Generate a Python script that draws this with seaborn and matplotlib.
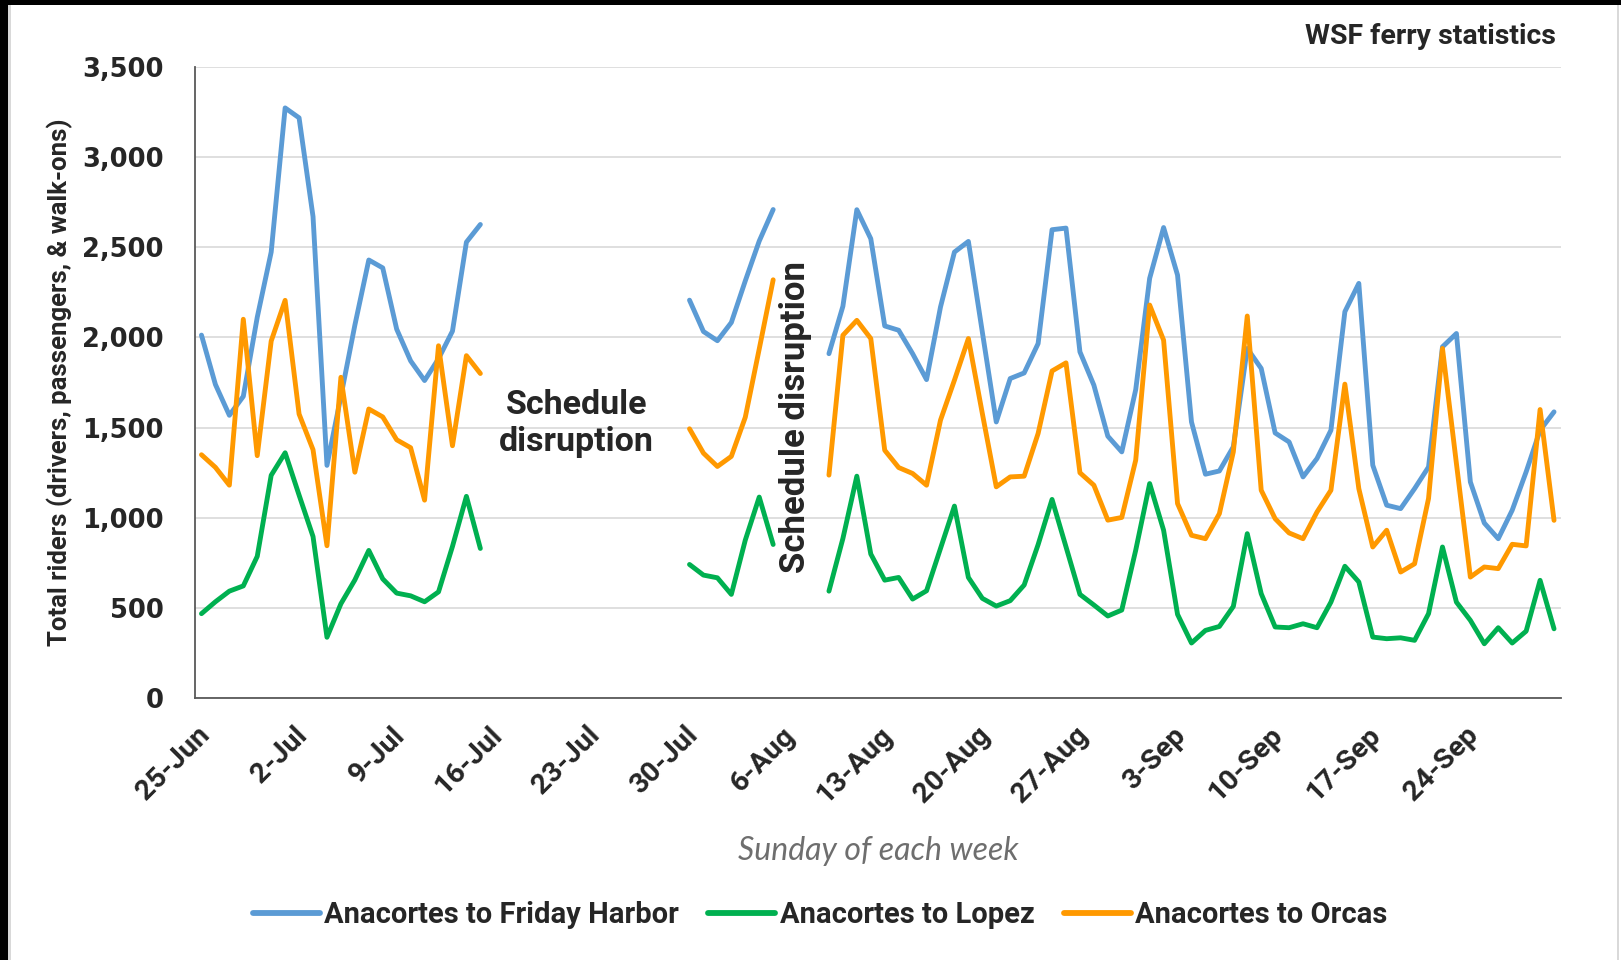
import numpy as np
import pandas as pd
import matplotlib
matplotlib.use("Agg")
import matplotlib.pyplot as plt
import matplotlib.transforms as mtransforms
from matplotlib.lines import Line2D
from matplotlib.patches import Rectangle
from matplotlib.ticker import FuncFormatter, MultipleLocator
import seaborn as sns

# ---------------- data ----------------
start_date = "2017-06-25"
n_days = 98
nan = np.nan

friday_harbor = [2013, 1739, 1568, 1673, 2112, 2474, 3274, 3219, 2671, 1290, 1673, 2068, 2430, 2386,
                 2046, 1870, 1761, 1882, 2035, 2529, 2627,
                 nan, nan, nan, nan, nan, nan, nan, nan, nan, nan, nan, nan, nan, nan,
                 2207, 2033, 1982, 2083, 2314, 2535, 2710,
                 nan, nan, nan,
                 1910, 2173, 2709, 2548, 2064, 2040, 1910, 1766, 2169, 2474, 2533, 2030, 1531, 1772,
                 1803, 1966, 2598, 2607, 1920, 1735, 1452, 1365, 1710, 2328, 2610, 2346, 1531, 1241,
                 1259, 1393, 1939, 1828, 1470, 1420, 1226, 1328, 1485, 2143, 2300, 1291, 1069, 1050,
                 1161, 1281, 1948, 2022, 1198, 970, 883, 1041, 1254, 1485, 1587]

lopez = [467, 533, 592, 621, 785, 1235, 1360, 1125, 895, 336, 522, 654, 818, 660,
         581, 566, 533, 588, 840, 1118, 829,
         nan, nan, nan, nan, nan, nan, nan, nan, nan, nan, nan, nan, nan, nan,
         740, 681, 666, 574, 875, 1114, 851,
         nan, nan, nan,
         592, 884, 1230, 798, 653, 668, 548, 594, 829, 1064, 668, 552, 509, 539,
         626, 850, 1101, 838, 574, 515, 454, 487, 819, 1189, 930, 463, 304, 374,
         396, 507, 911, 578, 393, 389, 411, 389, 531, 730, 643, 337, 328, 333,
         319, 467, 837, 531, 430, 300, 389, 304, 370, 652, 383]

orcas = [1349, 1279, 1180, 2101, 1344, 1980, 2206, 1575, 1377, 844, 1779, 1252, 1603, 1559,
         1432, 1388, 1097, 1954, 1399, 1899, 1800,
         nan, nan, nan, nan, nan, nan, nan, nan, nan, nan, nan, nan, nan, nan,
         1493, 1358, 1284, 1340, 1557, 1936, 2320,
         nan, nan, nan,
         1236, 2012, 2095, 1994, 1374, 1278, 1245, 1180, 1541, 1763, 1994, 1578, 1171, 1226,
         1230, 1467, 1814, 1859, 1249, 1180, 986, 1001, 1319, 2180, 1985, 1078, 902, 883,
         1022, 1365, 2119, 1152, 994, 915, 883, 1031, 1152, 1741, 1161, 837, 930, 698,
         744, 1106, 1939, 1300, 670, 726, 717, 852, 843, 1600, 985]

series_names = ["Anacortes to Friday Harbor", "Anacortes to Lopez", "Anacortes to Orcas"]
series_colors = ["#5B9BD5", "#00B050", "#FF9900"]
week_labels = ["25-Jun", "2-Jul", "9-Jul", "16-Jul", "23-Jul", "30-Jul", "6-Aug",
               "13-Aug", "20-Aug", "27-Aug", "3-Sep", "10-Sep", "17-Sep", "24-Sep"]

# ---------------- build long table ----------------
dates = pd.date_range(start_date, periods=n_days, freq="D")
frames = []
for name, vals in zip(series_names, [friday_harbor, lopez, orcas]):
    v = np.array(vals, dtype=float)
    seg = np.cumsum(np.isnan(v))  # new segment id after every gap
    d = pd.DataFrame({"date": dates, "day": np.arange(n_days) + 0.5,
                      "riders": v, "route": name, "segment": seg})
    frames.append(d.dropna(subset=["riders"]))
df = pd.concat(frames, ignore_index=True)
df["unit"] = df["route"] + "_" + df["segment"].astype(str)

# ---------------- style ----------------
sns.set_style("white")
BOLD = ["Roboto", "DejaVu Sans"]
plt.rcParams["font.family"] = BOLD

fig = plt.figure(figsize=(16.21, 9.6), dpi=100)
fig.patch.set_facecolor("white")
W, H = 1621, 960
ax = fig.add_axes([194.5 / W, 1 - 697.8 / H, (1561 - 194.5) / W, (697.8 - 67.2) / H])

palette = dict(zip(series_names, series_colors))
sns.lineplot(data=df, x="day", y="riders", hue="route", units="unit", estimator=None,
             palette=palette, hue_order=series_names, linewidth=3.5, ax=ax, legend=False,
             solid_capstyle="round", solid_joinstyle="round")

ax.set_xlim(0, n_days)
ax.set_ylim(0, 3500)

# grid & spines
ax.yaxis.set_major_locator(MultipleLocator(500))
ax.yaxis.set_minor_locator(MultipleLocator(100))
ax.grid(axis="y", which="major", color="#D9D9D9", linewidth=1.2)
ax.grid(axis="x", visible=False)
for s in ["top", "right"]:
    ax.spines[s].set_visible(False)
for s in ["left", "bottom"]:
    ax.spines[s].set_color("#595959")
    ax.spines[s].set_linewidth(1.3)

ax.yaxis.set_major_formatter(FuncFormatter(lambda v, p: f"{int(v):,}"))
ax.tick_params(axis="y", which="both", direction="in", length=8, width=1.1, color="#595959",
               pad=22)
for lab in ax.get_yticklabels():
    lab.set_fontfamily("DejaVu Sans")
    lab.set_fontweight("bold")
    lab.set_fontsize(18.5)

major_x = np.arange(0, 7 * len(week_labels), 7)
ax.set_xticks(list(major_x) + [n_days])
ax.set_xticklabels(week_labels + [""])
ax.set_xticks(np.arange(0, n_days + 1), minor=True)
ax.tick_params(axis="x", which="major", direction="inout", length=18, width=1.1,
               color="#595959", pad=15)
ax.tick_params(axis="x", which="minor", direction="in", length=7, width=1.0, color="#595959")
offset = mtransforms.ScaledTranslation(11 / 100, 0, fig.dpi_scale_trans)
for lab in ax.get_xticklabels():
    lab.set_rotation(45)
    lab.set_ha("right")
    lab.set_va("center")
    lab.set_rotation_mode("anchor")
    lab.set_fontweight("bold")
    lab.set_fontsize(20.5)
    lab.set_transform(lab.get_transform() + offset)

ax.set_xlabel("Sunday of each week", fontsize=23, style="italic", color="#6E6E6E",
              fontfamily=["Lato", "DejaVu Sans"])
ax.xaxis.label.set_va("center")
ax.xaxis.set_label_coords(0.5, -(851 - 697.8) / (697.8 - 67.2), transform=ax.transAxes)
ax.set_ylabel("Total riders (drivers, passengers, & walk-ons)", fontsize=18.5,
              fontweight="bold")
ax.yaxis.label.set_va("center")
ax.yaxis.set_label_coords(-(194.5 - 60) / (1561 - 194.5), 0.5)

# annotations
ax.text(27.4, 1520, "Schedule\ndisruption", ha="center", va="center", fontsize=24.5,
        fontweight="bold", linespacing=1.2)
ax.text(43.1, 1560, "Schedule disruption", ha="center", va="center", rotation=90,
        fontsize=25, fontweight="bold")

fig.text(1556 / W, 1 - 36 / H, "WSF ferry statistics", ha="right", va="center",
         fontsize=20.5, fontweight="bold")

# legend
handles = [Line2D([0], [0], color=c, lw=4.2) for c in series_colors]
fig.legend(handles, series_names, loc="center", bbox_to_anchor=(820 / W, 1 - 915 / H),
           ncol=3, frameon=False, handlelength=2.3, handletextpad=0.15,
           columnspacing=1.0, prop={"weight": "bold", "size": 21})

# outer frame (black strips on left and top, thin grey lines inside)
fig.patches.append(Rectangle((0, 0), 8 / W, 1, transform=fig.transFigure,
                             facecolor="black", edgecolor="none", zorder=10))
fig.patches.append(Rectangle((0, 1 - 5 / H), 1, 5 / H, transform=fig.transFigure,
                             facecolor="black", edgecolor="none", zorder=10))
fig.patches.append(Rectangle((8 / W, 0), 3 / W, 1 - 5 / H, transform=fig.transFigure,
                             facecolor="#D9D9D9", edgecolor="none", zorder=10))
fig.patches.append(Rectangle((1617 / W, 0), 2 / W, 1 - 5 / H, transform=fig.transFigure,
                             facecolor="#D9D9D9", edgecolor="none", zorder=10))

fig.savefig("out.png", dpi=100, facecolor=fig.get_facecolor())
